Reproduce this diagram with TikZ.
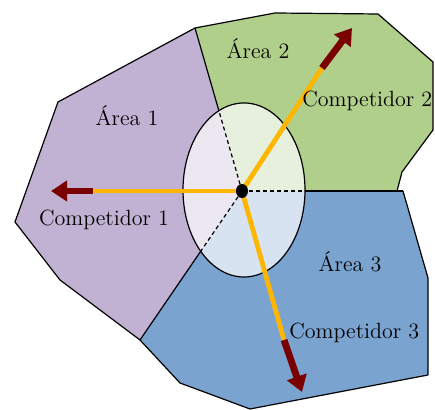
\documentclass[tikz,border=0pt]{standalone}
\usepackage{tikz}
\usetikzlibrary{arrows.meta, shapes.geometric}
\definecolor{areapurple}{RGB}{193, 178, 212}
\definecolor{areagreen}{RGB}{176, 207, 139}
\definecolor{areablue}{RGB}{122, 163, 208}
\definecolor{routeyellow}{RGB}{255, 182, 0}
\definecolor{tipred}{RGB}{122, 0, 0}

\begin{document}
\begin{tikzpicture}[x=0.5pt, y=-0.5pt,
        % --- TikZ Styles ---
        edgeline/.style={draw=black, line width=0.6pt, line join=round},
        innerline/.style={draw=black, line width=0.6pt, dash pattern=on 2pt off 1.5pt},
        zone/.style={draw=black, line width=0.6pt, fill=white, fill opacity=0.7},
        route/.style={draw=routeyellow, line width=2.4pt},
        pointer/.style={draw=tipred, line width=3.4pt, -{Triangle[length=8pt, width=10pt]}},
        txt/.style={font=\fontsize{11}{13}\selectfont, inner sep=0pt},
        hubdot/.style={ellipse, fill=black, minimum width=6pt, minimum height=7pt, inner sep=0pt}
    ]
    \useasboundingbox (0,0) rectangle (435,410);

    % --- 1. POINTS ---
    \coordinate (hub) at (242,191);
    \coordinate (top) at (195,28);
    \coordinate (low) at (140,340);
    \coordinate (gap) at (403,191);
    \coordinate (cut12) at (218.9,110.8);
    \coordinate (cut13) at (200.7,251.3);
    \coordinate (cut23) at (305,191);

    % --- 2. AREAS ---
    \fill[areapurple] (hub) -- (top) -- (58,102) -- (15,222) -- (60,280) -- (low) -- cycle;
    \fill[areagreen] (hub) -- (top) -- (275,13) -- (378,14) -- (433,62) -- (433,130)
        -- (402,172) -- (397,191) -- cycle;
    \fill[areablue] (hub) -- (gap) -- (428,278) -- (428,375) -- (250,409) -- (180,383)
        -- (low) -- cycle;

    % outer border
    \draw[edgeline] (low) -- (60,280) -- (15,222) -- (58,102) -- (top) -- (275,13)
        -- (378,14) -- (433,62) -- (433,130) -- (402,172) -- (397,191);
    \draw[edgeline] (gap) -- (428,278) -- (428,375) -- (250,409) -- (180,383) -- (low);

    % borders between areas
    \draw[edgeline] (top) -- (cut12);
    \draw[edgeline] (low) -- (cut13);
    \draw[edgeline] (gap) -- (cut23);

    % --- 3. ZONE ---
    \draw[zone] (244,190) ellipse [x radius=61, y radius=87];
    \draw[innerline] (hub) -- (cut12);
    \draw[innerline] (hub) -- (cut13);
    \draw[innerline] (hub) -- (cut23);

    % --- 4. COMPETITORS ---
    \coordinate (bend1) at (93,191);
    \coordinate (end1) at (51,191);
    \coordinate (bend2) at (322,68);
    \coordinate (end2) at (352,28);
    \coordinate (bend3) at (284,340);
    \coordinate (end3) at (302,392);

    \draw[route] (hub) -- (bend1);
    \draw[route] (hub) -- (bend2);
    \draw[route] (hub) -- (bend3);
    \draw[pointer] (bend1) -- (end1);
    \draw[pointer] (bend2) -- (end2);
    \draw[pointer] (bend3) -- (end3);

    \node[hubdot] (center) at (hub) {};

    % --- 5. LABELS ---
    \node[txt] (area1) at (127,116) {Área 1};
    \node[txt] (area2) at (258,49) {Área 2};
    \node[txt] (area3) at (350,262) {Área 3};
    \node[txt] (comp1) at (104,220) {Competidor 1};
    \node[txt, anchor=west] (comp2) at (302,101) {Competidor 2};
    \node[txt, anchor=west] (comp3) at (289,333) {Competidor 3};

\end{tikzpicture}
\end{document}
